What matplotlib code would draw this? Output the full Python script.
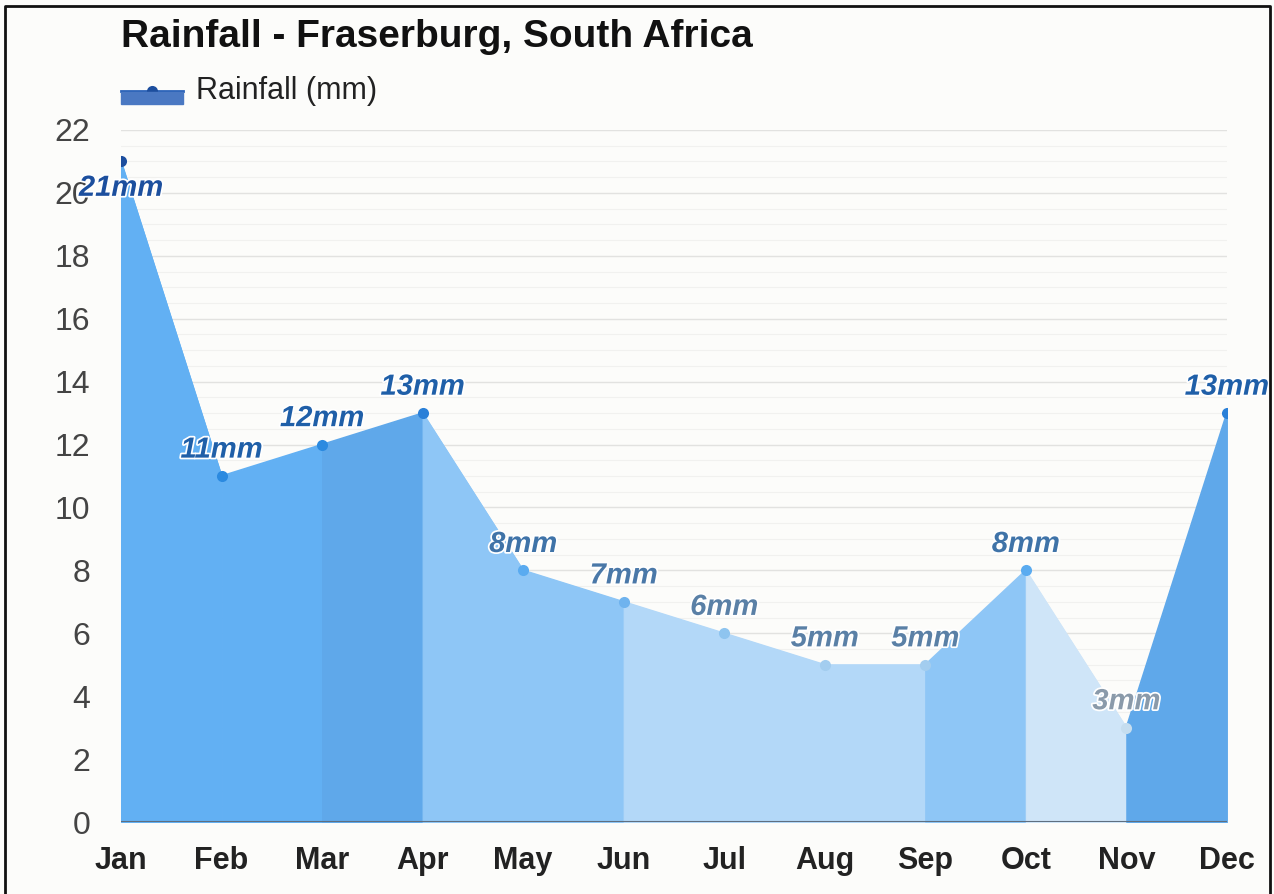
import matplotlib
matplotlib.use("Agg")
import matplotlib.pyplot as plt
import matplotlib.patheffects as pe
from matplotlib.patches import Rectangle
from matplotlib.lines import Line2D
import numpy as np

plt.rcParams['font.family'] = ['Liberation Sans', 'DejaVu Sans']

months = ["Jan", "Feb", "Mar", "Apr", "May", "Jun", "Jul", "Aug", "Sep", "Oct", "Nov", "Dec"]
rainfall = [21, 11, 12, 13, 8, 7, 6, 5, 5, 8, 3, 13]
labels = ["21mm", "11mm", "12mm", "13mm", "8mm", "7mm", "6mm", "5mm", "5mm", "8mm", "3mm", "13mm"]
yticks = [0, 2, 4, 6, 8, 10, 12, 14, 16, 18, 20, 22]

title = "Rainfall - Fraserburg, South Africa"
legend_label = "Rainfall (mm)"

def fill_color(v):
    if v >= 20: return "#4f9fe8"
    if v >= 13: return "#5fa8ea"
    if v >= 10: return "#62b0f3"
    if v >= 7: return "#8ec6f6"
    if v >= 4: return "#b3d8f8"
    return "#cfe5f8"

def marker_color(v):
    if v >= 20: return "#1c4e9e"
    if v >= 13: return "#2a80d8"
    if v >= 10: return "#2b8ae0"
    if v >= 8: return "#5aabf0"
    if v >= 7: return "#6fb3ee"
    if v >= 6: return "#8ec4ef"
    if v >= 4: return "#a3cdef"
    return "#c5ddef"

def label_color(v):
    if v >= 20: return "#1c4f9e"
    if v >= 10: return "#1f5fa8"
    if v >= 8: return "#3f73a8"
    if v >= 7: return "#4a78a8"
    if v >= 4: return "#5a80a6"
    return "#8a9aaa"

fig = plt.figure(figsize=(12.74, 8.94), dpi=100, facecolor="#fcfcfa")
ax = fig.add_axes([0.095, 0.0805, 0.868, 0.7741])
ax.set_facecolor("#fcfcfa")

x = np.arange(len(months))
ax.set_xlim(0, len(months) - 1)
ax.set_ylim(0, 22)

# grid
for yv in np.arange(0, 22.01, 0.5):
    ax.axhline(yv, color="#f1f1ef", lw=0.8, zorder=0)
for yv in yticks:
    ax.axhline(yv, color="#e2e2e0", lw=1.0, zorder=0)

# segmented fills coloured by right endpoint value
for i in range(len(months) - 1):
    xs = [x[i], x[i + 1]]
    ys = [rainfall[i], rainfall[i + 1]]
    c = fill_color(rainfall[i + 1])
    ax.fill_between(xs, ys, 0, facecolor=c, edgecolor=c, lw=0.8, zorder=1)
    ax.plot(xs, ys, color=c, lw=1.2, zorder=2)

ax.axhline(0, color="#5f6f80", lw=1.5, zorder=3)

for i, v in enumerate(rainfall):
    ax.plot(x[i], v, 'o', ms=8, color=marker_color(v), mec="none", zorder=4)
    if v + 1.3 > 22:
        off = -19
    else:
        off = 19
    ax.annotate(labels[i], (x[i], v), xytext=(0, off), textcoords="offset points",
                ha="center", va="center", fontsize=21, fontweight="bold", fontstyle="italic",
                color=label_color(v), zorder=5,
                path_effects=[pe.withStroke(linewidth=2.5, foreground="white")])

ax.set_xticks(x)
ax.set_xticklabels(months, fontsize=22, fontweight="bold", color="#222222")
ax.set_yticks(yticks)
ax.set_yticklabels([str(t) for t in yticks], fontsize=23, color="#444444")
ax.tick_params(axis='both', length=0)
ax.tick_params(axis='x', pad=17)
ax.tick_params(axis='y', pad=22)
for s in ax.spines.values():
    s.set_visible(False)

# title
fig.text(121 / 1274, 1 - 37 / 894, title, fontsize=28, fontweight="bold",
         color="#111111", ha="left", va="center")

# legend
fig.patches.append(Rectangle((121 / 1274, 1 - 104 / 894), 62 / 1274, 12 / 894,
                             transform=fig.transFigure, color="#4a78c2", zorder=5))
fig.lines.append(Line2D([121 / 1274, 183 / 1274], [1 - 91 / 894, 1 - 91 / 894],
                        transform=fig.transFigure, color="#2a62b8", lw=2))
fig.lines.append(Line2D([152 / 1274], [1 - 91 / 894], transform=fig.transFigure,
                        marker='o', ms=8, color="#1c4e9e", mec="none"))
fig.text(196 / 1274, 1 - 91 / 894, legend_label, fontsize=22, color="#222222",
         ha="left", va="center")

# frame border
fig.lines.append(Line2D([5 / 1274, 5 / 1274, 1270 / 1274, 1270 / 1274],
                        [0, 1 - 6 / 894, 1 - 6 / 894, 0],
                        transform=fig.transFigure, color="#111111", lw=2))

fig.savefig("out.png", dpi=100, facecolor=fig.get_facecolor())
